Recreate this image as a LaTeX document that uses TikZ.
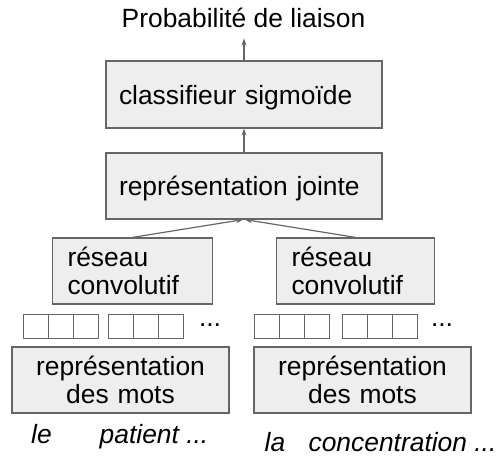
\documentclass[tikz,border=0pt]{standalone}
\usepackage{fontspec}
\setmainfont{Liberation Sans}
\usetikzlibrary{arrows.meta}
\definecolor{boxfill}{HTML}{EEEEEE}
\definecolor{edge}{HTML}{666666}
\tikzset{
  box/.style={draw=edge,fill=boxfill,line width=1.2pt,inner xsep=13pt,inner ysep=0pt,
    minimum height=66pt,font=\fontsize{26.4}{28.5}\selectfont},
  cell/.style={draw=edge,fill=white,line width=1pt,minimum width=25pt,minimum height=24pt,inner sep=0pt},
  arr/.style={draw=edge,line width=1.2pt,-{Stealth[length=7pt,width=5pt]}},
  word/.style={anchor=base,inner sep=0pt,font=\fontsize{26.4}{30}\selectfont}
}
\begin{document}
\begin{tikzpicture}[x=1pt,y=1pt]
\useasboundingbox (0,0) rectangle (497,-457);
\node[word,inner ysep=10pt] (P) at (243.5,-28) {Probabilité de liaison};
\node[box,text width=250pt,align=left,minimum height=67pt,text depth=0pt] (S) at (244,-94.5) {classifieur sigmoïde};
\node[box,text width=250pt,align=left,text depth=0pt] (J) at (244,-186) {représentation jointe};
\node[box,text width=130pt,inner xsep=15pt,align=left] (R1) at (132.5,-271) {réseau\\convolutif};
\node[box,text width=128pt,inner xsep=15pt,align=left] (R2) at (355.5,-271) {réseau\\convolutif};
\node[box,text width=191pt,align=center] (M1) at (120.5,-380) {représentation\\des mots};
\node[box,text width=191pt,align=center] (M2) at (362.5,-380) {représentation\\des mots};
\foreach \g/\x in {a/23,b/108,c/254,d/342} {
  \foreach \k in {0,1,2} {
    \node[cell] (\g\k) at (\x+12.5+25*\k,-326) {};
  }
}
\node[word,anchor=center] (D1) at (210,-325) {...};
\node[word,anchor=center] (D2) at (442,-325) {...};
\node[word] (W1) at (41.5,-443) {\itshape le};
\node[word] (W2) at (154,-443) {\itshape patient ...};
\node[word] (W3) at (275,-451) {\itshape la};
\node[word] (W4) at (402.5,-451) {\itshape concentration ...};
\draw[arr] (S.north) -- (S.north |- P.south);
\draw[arr] (J.north) -- (S.south);
\draw[arr] (R1.north) -- ([xshift=-1pt]J.south);
\draw[arr] (R2.north) -- ([xshift=1pt]J.south);
\end{tikzpicture}
\end{document}
